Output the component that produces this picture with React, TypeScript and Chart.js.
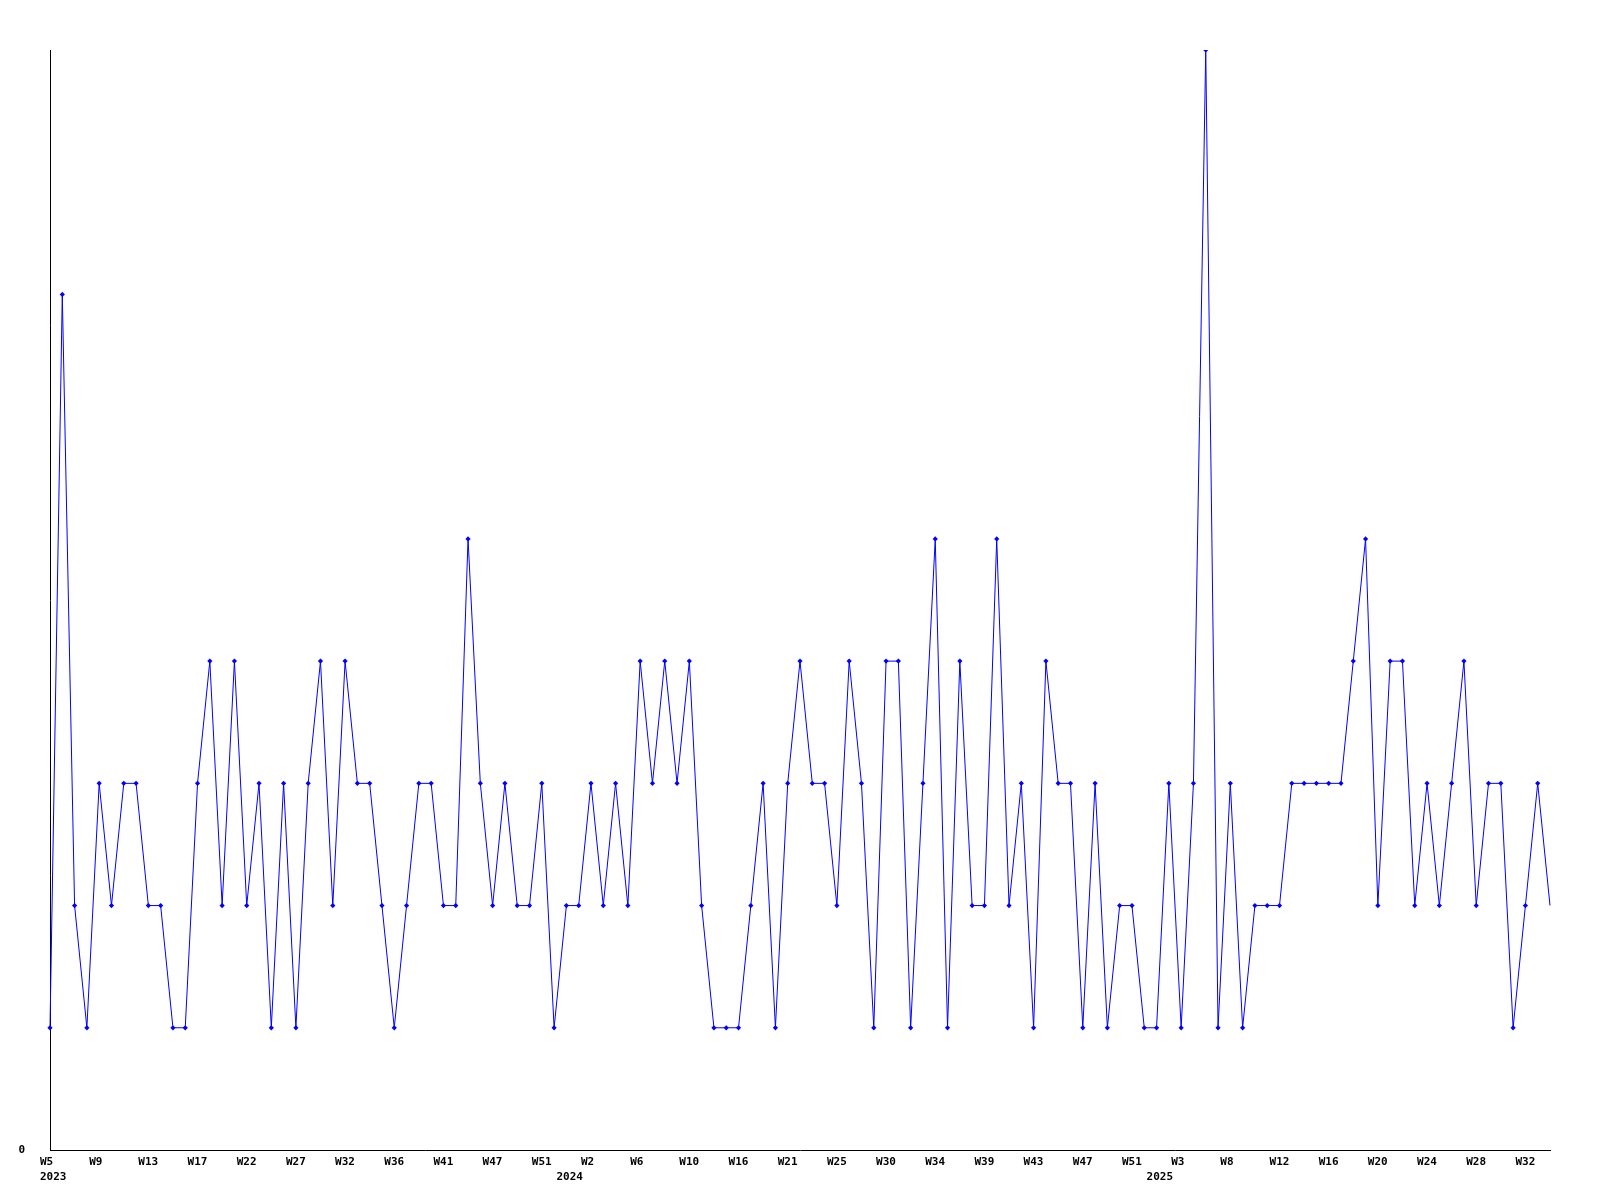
import React, { useEffect, useRef } from "react";
import { Chart, registerables } from "chart.js";

Chart.register(...registerables);

// Weekly counts, one per category point (2023 W5 … 2025 W33)
const weeklyValues: number[] = [
  1, 7, 2, 1, 3, 2, 3, 3, 2, 2,
  1, 1, 3, 4, 2, 4, 2, 3, 1, 3,
  1, 3, 4, 2, 4, 3, 3, 2, 1, 2,
  3, 3, 2, 2, 5, 3, 2, 3, 2, 2,
  3, 1, 2, 2, 3, 2, 3, 2, 4, 3,
  4, 3, 4, 2, 1, 1, 1, 2, 3, 1,
  3, 4, 3, 3, 2, 4, 3, 1, 4, 4,
  1, 3, 5, 1, 4, 2, 2, 5, 2, 3,
  1, 4, 3, 3, 1, 3, 1, 2, 2, 1,
  1, 3, 1, 3, 9, 1, 3, 1, 2, 2,
  2, 3, 3, 3, 3, 3, 4, 5, 2, 4,
  4, 2, 3, 2, 3, 4, 2, 3, 3, 1,
  2, 3, 2,
];

// Week tick labels, shown on every 4th point
const weekTickLabels: string[] = [
  "W5", "W9", "W13", "W17", "W22", "W27", "W32", "W36", "W41", "W47", "W51",
  "W2", "W6", "W10", "W16", "W21", "W25", "W30", "W34", "W39", "W43", "W47", "W51",
  "W3", "W8", "W12", "W16", "W20", "W24", "W28", "W32",
];
const weekTickEvery = 4;

// Year labels and the point where each year starts
const yearLabels: string[] = ["2023", "2024", "2025"];
const yearStartIndex: number[] = [0, 42, 90];

const yMax = 9;

const categories: string[][] = weeklyValues.map((_, i) => {
  const week = i % weekTickEvery === 0 ? weekTickLabels[i / weekTickEvery] ?? "" : "";
  const yi = yearStartIndex.indexOf(i);
  return yi >= 0 ? [week, yearLabels[yi]] : [week];
});

const tickFont = { family: "'DejaVu Sans Mono', monospace", size: 11, weight: "bold" as const, lineHeight: 1.35 };

export default function App() {
  const ref = useRef<HTMLCanvasElement | null>(null);

  useEffect(() => {
    if (!ref.current) return;
    const last = weeklyValues.length - 1;
    const chart = new Chart(ref.current, {
      type: "line",
      data: {
        labels: categories,
        datasets: [
          {
            data: weeklyValues,
            borderColor: "#0000ff",
            backgroundColor: "#0000ff",
            borderWidth: 1,
            tension: 0,
            pointStyle: "rectRot",
            pointRadius: (ctx: any) => (ctx.dataIndex === last ? 0 : 2.6),
            pointBorderWidth: 0,
            pointBackgroundColor: "#0000ff",
            fill: false,
          },
        ],
      },
      options: {
        responsive: false,
        animation: false,
        devicePixelRatio: 1,
        layout: { padding: { left: 0, top: 50, right: 50, bottom: 0 } },
        plugins: { legend: { display: false }, tooltip: { enabled: false } },
        scales: {
          x: {
            type: "category",
            offset: false,
            grid: { display: false, drawTicks: false, tickLength: 0 },
            border: { display: true, color: "#000", width: 1 },
            ticks: {
              autoSkip: false,
              maxRotation: 0,
              minRotation: 0,
              align: "start",
              labelOffset: -10,
              padding: 5,
              color: "#000",
              font: tickFont,
            },
            afterFit: (scale: any) => {
              scale.height = 50;
            },
          },
          y: {
            min: 0,
            max: yMax,
            grid: { display: false, drawTicks: false, tickLength: 0 },
            border: { display: true, color: "#000", width: 1 },
            ticks: {
              padding: 25,
              color: "#000",
              font: tickFont,
              callback: (v: any) => (v === 0 ? "0" : ""),
            },
            afterBuildTicks: (scale: any) => {
              scale.ticks = [{ value: 0 }];
            },
            afterFit: (scale: any) => {
              scale.width = 50;
            },
          },
        },
      },
    });
    return () => chart.destroy();
  }, []);

  return (
    <div style={{ position: "absolute", left: 0, top: 0, width: 1600, height: 1200, background: "#fff" }}>
      <canvas ref={ref} width={1600} height={1200} />
    </div>
  );
}
